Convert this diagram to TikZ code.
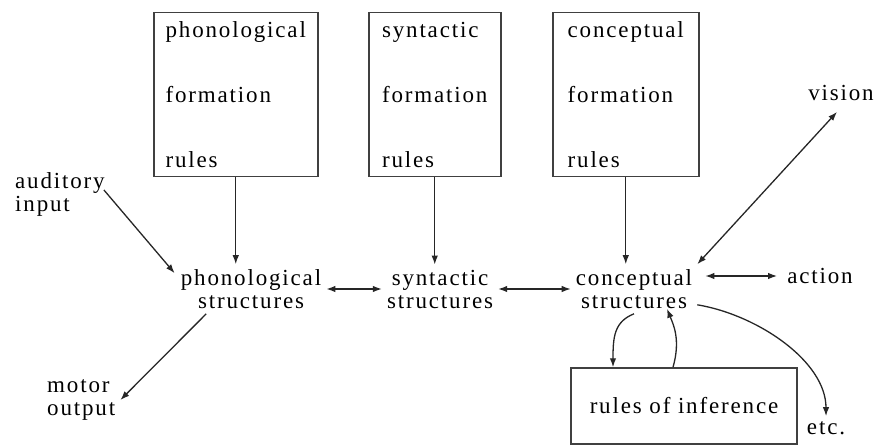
\documentclass[tikz,border=0pt]{standalone}
\usepackage{fontspec}
\setmainfont{Liberation Serif}[LetterSpace=8]
\usetikzlibrary{arrows.meta}
\begin{document}
\begin{tikzpicture}[x=1pt,y=-1pt,
    lbl/.style={font=\fontsize{23}{23}\selectfont,align=center,inner sep=5pt},
    rulebox/.style={draw=black!75,line width=1.5pt,font=\fontsize{23}{65}\selectfont,align=left,inner sep=0pt},
    arr/.style={draw=black!85,line width=1.3pt,-{Latex[length=9pt,width=6.5pt]}},
    dbl/.style={arr,{Latex[length=9pt,width=6.5pt]}-{Latex[length=9pt,width=6.5pt]}}]
  \useasboundingbox (0,0) rectangle (877,446);
  \node [rulebox,minimum width=164pt,minimum height=164pt,anchor=north west] (phonrules) at (153,12) {phonological\\formation\\rules};
  \node [rulebox,minimum width=132pt,minimum height=164pt,anchor=north west] (synrules) at (368,12) {syntactic\\formation\\rules};
  \node [rulebox,minimum width=146pt,minimum height=164pt,anchor=north west] (concrules) at (552,12) {conceptual\\formation\\rules};
  \node [rulebox,minimum width=226pt,minimum height=76pt] (infer) at (684,406) {rules of inference};
  \node [lbl] (phon) at (251,289) {phonological\\structures};
  \node [lbl] (syn) at (440,289) {syntactic\\structures};
  \node [lbl] (conc) at (634,289) {conceptual\\structures};
  \node [lbl] (action) at (820,276) {action};
  \node [lbl] (vision) at (841,93) {vision};
  \node [lbl,align=left,anchor=west] (aud) at (10,194) {auditory\\input};
  \node [lbl,align=left,anchor=west] (motor) at (42,400) {motor\\output};
  \node [lbl] (etc) at (826,428) {etc.};
  \draw [arr] (phonrules.south) -- (phonrules.south |- phon.north);
  \draw [arr] (synrules.south) -- (synrules.south |- syn.north);
  \draw [arr] (concrules.south) -- (concrules.south |- conc.north);
  \draw [dbl] (phon.east) -- (syn.west);
  \draw [dbl] (syn.east) -- (conc.west);
  \draw [dbl] ([xshift=8pt]conc.east |- action.west) -- ([xshift=-5pt]action.west);
  \draw [dbl] ([shift={(-4pt,-6pt)}]vision.south) -- (conc.north east);
  \draw [arr] ([shift={(-6pt,4pt)}]aud.east) -- ([shift={(-1pt,-9pt)}]phon.north west);
  \draw [arr] (phon.209) -- (motor.east);
  \draw [arr] (conc.south) .. controls +(-20,8) and +(0,-30) .. ([xshift=-71pt]infer.north);
  \draw [arr] ([xshift=-11pt]infer.north) .. controls +(8,-28) and +(6,15) .. ([xshift=33pt,yshift=5pt]conc.south);
  \draw [arr] ([yshift=9pt]conc.south east) .. controls +(60,10) and +(0,-55) .. (etc.north);
\end{tikzpicture}
\end{document}
